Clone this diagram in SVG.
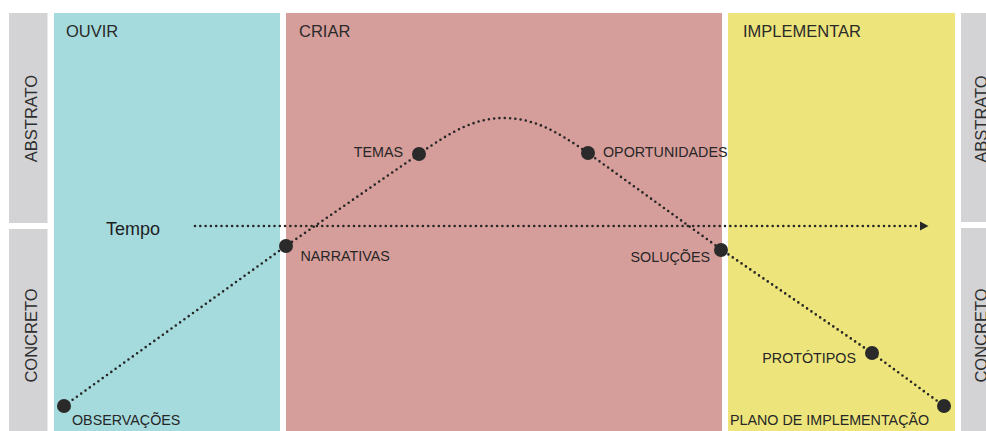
<svg xmlns="http://www.w3.org/2000/svg" width="986" height="431" viewBox="0 0 986 431">
<style>
.gray{fill:#d3d3d5}
.side{font-family:"Liberation Sans",Arial,sans-serif;font-size:16.5px;fill:#2e2e2e;text-anchor:middle}
.title{font-family:"Liberation Sans",Arial,sans-serif;font-size:16.5px;fill:#2a2a2a}
.lbl{font-family:"Liberation Sans",Arial,sans-serif;font-size:14.3px;fill:#262626}
.dotline{fill:none;stroke:#262626;stroke-width:2.6;stroke-linecap:round;stroke-dasharray:0 5.3}
.pt{fill:#2a2a2a}
</style>
<rect width="986" height="431" fill="#ffffff"/>
<g id="axis-left">
<rect class="gray" x="9" y="13" width="38.5" height="210"/>
<rect class="gray" x="9" y="229" width="38.5" height="202"/>
<text class="side" transform="translate(37,118.5) rotate(-90)">ABSTRATO</text>
<text class="side" transform="translate(37,335.5) rotate(-90)">CONCRETO</text>
</g>
<g id="axis-right">
<rect class="gray" x="961" y="13" width="25" height="209"/>
<rect class="gray" x="961" y="228" width="25" height="203"/>
<text class="side" transform="translate(987,119) rotate(-90)">ABSTRATO</text>
<text class="side" transform="translate(987,335.5) rotate(-90)">CONCRETO</text>
</g>
<g id="ouvir">
<rect x="54" y="13" width="226" height="418" fill="#a6dbde"/>
<text class="title" x="66" y="37">OUVIR</text>
</g>
<g id="criar">
<rect x="286" y="13" width="436" height="418" fill="#d69e9b"/>
<text class="title" x="299" y="37">CRIAR</text>
</g>
<g id="implementar">
<rect x="728" y="13" width="227" height="418" fill="#ede57c"/>
<text class="title" x="743" y="37">IMPLEMENTAR</text>
</g>
<g id="connectors">
<path class="dotline" d="M195,226 L920,226"/>
<polygon points="920,221.5 928.5,226 920,230.5" fill="#262626"/>
<path class="dotline" d="M64,406 L286,246 L419,154 C452,131 475,118 504,118 C534,118 558,132 588,153 L722,250 L872,353 L944,406"/>
</g>
<g id="tempo">
<text x="106" y="235" font-family="'Liberation Sans',Arial,sans-serif" font-size="18" fill="#1e1e1e">Tempo</text>
</g>
<g id="observacoes">
<circle class="pt" cx="64" cy="406" r="7"/>
<text class="lbl" x="72" y="425">OBSERVAÇÕES</text>
</g>
<g id="narrativas">
<circle class="pt" cx="286" cy="246" r="7"/>
<text class="lbl" x="300.5" y="261">NARRATIVAS</text>
</g>
<g id="temas">
<circle class="pt" cx="419" cy="154" r="7"/>
<text class="lbl" x="403" y="157" text-anchor="end">TEMAS</text>
</g>
<g id="oportunidades">
<circle class="pt" cx="588" cy="153" r="7"/>
<text class="lbl" x="603" y="157">OPORTUNIDADES</text>
</g>
<g id="solucoes">
<circle class="pt" cx="721" cy="250" r="7"/>
<text class="lbl" x="710" y="262" text-anchor="end">SOLUÇÕES</text>
</g>
<g id="prototipos">
<circle class="pt" cx="872" cy="353" r="7"/>
<text class="lbl" x="856" y="363" text-anchor="end">PROTÓTIPOS</text>
</g>
<g id="plano">
<circle class="pt" cx="944" cy="406" r="7"/>
<text class="lbl" x="730" y="425">PLANO DE IMPLEMENTAÇÃO</text>
</g>
</svg>
